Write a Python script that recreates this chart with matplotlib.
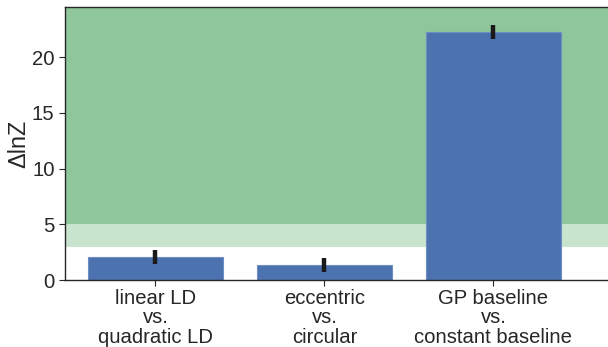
import numpy as np
import matplotlib.pyplot as plt

plt.rcParams['font.family'] = ['Liberation Sans', 'DejaVu Sans']

labels = ["linear LD\nvs.\nquadratic LD", "eccentric\nvs.\ncircular", "GP baseline\nvs.\nconstant baseline"]
dlnz = [2.03, 1.33, 22.25]
dlnz_err = [0.62, 0.62, 0.6]

fig = plt.figure(figsize=(6.08, 3.47), dpi=100)
ax = fig.add_axes([65 / 608, 1 - 280 / 347, 555 / 608, 273 / 347])

green = "#55A868"
ax.axhspan(3, 5, color=green, alpha=0.32, lw=0, zorder=0)
ax.axhspan(5, 30, color=green, alpha=0.65, lw=0, zorder=0)

x = np.arange(len(labels))
ax.bar(x, dlnz, width=0.8, color="#4C72B0", edgecolor="#6F8FC4", linewidth=0.8, zorder=2)
ax.errorbar(x, dlnz, yerr=dlnz_err, fmt="none", ecolor="#1a1a1a", elinewidth=3.2, capsize=0, zorder=3)

ax.set_xlim(-0.535, 2.749)
ax.set_ylim(0, 24.5)
ax.set_yticks([0, 5, 10, 15, 20])
ax.set_xticks(x)
ax.set_xticklabels(labels, fontsize=14.6, color="#262626", linespacing=1.03)
ax.tick_params(axis="y", labelsize=14.6, labelcolor="#262626", length=4, color="#262626")
ax.tick_params(axis="x", length=4, color="#262626", pad=2.5)
ax.set_ylabel("ΔlnZ", fontsize=16.8, color="#262626", labelpad=1.5)

for s in ["left", "bottom", "top"]:
    ax.spines[s].set_color("#262626")
    ax.spines[s].set_linewidth(1.0)
ax.spines["right"].set_visible(False)

fig.savefig("out.png", dpi=100)
